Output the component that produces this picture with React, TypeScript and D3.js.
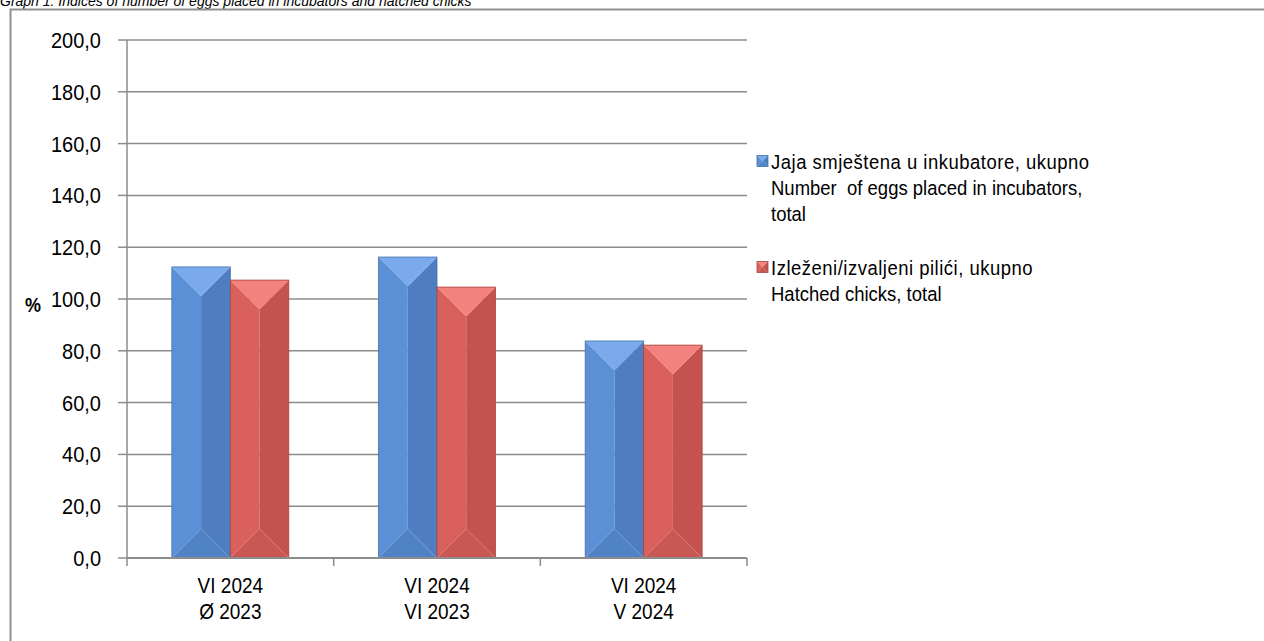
import React from 'react';
import * as d3 from 'd3';

const categories = [
  ['VI 2024', 'Ø 2023'],
  ['VI 2024', 'VI 2023'],
  ['VI 2024', 'V 2024'],
];
const seriesNames = ['eggs', 'chicks'];
const eggsPlaced = [112.4, 116.2, 83.8];
const hatchedChicks = [107.3, 104.6, 82.2];
const yTicks = [0, 20, 40, 60, 80, 100, 120, 140, 160, 180, 200];
const legendLines = [
  ['Jaja smještena u inkubatore, ukupno', 'Number  of eggs placed in incubators,', 'total'],
  ['Izleženi/izvaljeni pilići, ukupno', 'Hatched chicks, total'],
];
const title = 'Graph 1. Indices of number of eggs placed in incubators and hatched chicks';

const WIDTH = 1264;
const HEIGHT = 641;
const PLOT = { left: 127, right: 747, top: 40, bottom: 558 };
const FONT = '"Liberation Sans", Arial, sans-serif';
const STRETCH = 1.12; // source text is drawn a bit taller than wide

// colours per series: top, left, right, bottom, edge
const palette = {
  eggs: { top: '#7aaaeb', left: '#5b8fd6', right: '#4e7ec1', bottom: '#5083c6', edge: '#4470ab' },
  chicks: { top: '#f3817d', left: '#da605c', right: '#c4534f', bottom: '#c95854', edge: '#a8453f' },
};

type Pal = typeof palette.eggs;

const BevelBar: React.FC<{ x0: number; x1: number; yT: number; yB: number; pal: Pal }> = ({ x0, x1, yT, yB, pal }) => {
  const xm = (x0 + x1) / 2;
  const h = Math.min((x1 - x0) / 2, (yB - yT) / 2);
  const pts = (a: number[][]) => a.map(p => p.join(',')).join(' ');
  return (
    <g>
      <polygon points={pts([[x0, yT], [xm, yT + h], [xm, yB - h], [x0, yB]])} fill={pal.left} />
      <polygon points={pts([[x1, yT], [xm, yT + h], [xm, yB - h], [x1, yB]])} fill={pal.right} />
      <polygon points={pts([[x0, yB], [xm, yB - h], [x1, yB]])} fill={pal.bottom} />
      <polygon points={pts([[x0, yT], [x1, yT], [xm, yT + h]])} fill={pal.top} />
      <rect x={x0} y={yT} width={x1 - x0} height={yB - yT} fill="none" stroke={pal.edge} strokeWidth={0.8} />
    </g>
  );
};

const Txt: React.FC<{ x: number; y: number; size: number; anchor?: string; bold?: boolean; spacing?: number; children: React.ReactNode }> = ({ x, y, size, anchor = 'start', bold, spacing = 0, children }) => (
  <text
    transform={`translate(${x},${y}) scale(1,${STRETCH})`}
    textAnchor={anchor}
    fontSize={size}
    fontWeight={bold ? 'bold' : 'normal'}
    letterSpacing={spacing}
    fill="#000"
    style={{ whiteSpace: 'pre' }}
  >
    {children}
  </text>
);

const App: React.FC = () => {
  const y = d3.scaleLinear().domain([0, 200]).range([PLOT.bottom, PLOT.top]);
  const x = d3.scaleBand<number>().domain(d3.range(categories.length)).range([PLOT.left, PLOT.right]);
  const xs = d3.scaleBand<string>().domain(seriesNames).range([0, x.bandwidth()]).paddingOuter(0.767);
  const fmt = (v: number) => d3.format('.1f')(v).replace('.', ',');
  const values: Record<string, number[]> = { eggs: eggsPlaced, chicks: hatchedChicks };
  const grid = '#8c8c8c';

  const legendY = [161, 267];

  return (
    <svg width={WIDTH} height={HEIGHT} style={{ position: 'fixed', left: 0, top: 0, background: '#fff' }} fontFamily={FONT}>
      <rect x={0} y={0} width={WIDTH} height={HEIGHT} fill="#fff" />
      <text x={0} y={6} fontSize={14} fontStyle="italic" fill="#000">{title}</text>
      <rect x={10.5} y={9.5} width={1400} height={800} fill="none" stroke="#8f8f8f" strokeWidth={2} />

      {/* gridlines and y axis */}
      {yTicks.map(t => (
        <g key={t}>
          <line x1={PLOT.left} x2={PLOT.right} y1={y(t)} y2={y(t)} stroke={grid} strokeWidth={1.5} />
          <line x1={PLOT.left - 9} x2={PLOT.left} y1={y(t)} y2={y(t)} stroke={grid} strokeWidth={1.5} />
          <Txt x={101} y={y(t) + 8} size={20} anchor="end">{fmt(t)}</Txt>
        </g>
      ))}
      <line x1={PLOT.left} x2={PLOT.left} y1={PLOT.top} y2={PLOT.bottom} stroke={grid} strokeWidth={1.5} />
      <Txt x={33} y={y(100) + 13} size={18} anchor="middle" bold>%</Txt>

      {/* bars */}
      {categories.map((_, i) =>
        seriesNames.map(s => {
          const x0 = (x(i) ?? 0) + (xs(s) ?? 0);
          return (
            <BevelBar key={`${i}-${s}`} x0={x0} x1={x0 + xs.bandwidth()} yT={y(values[s][i])} yB={y(0)} pal={palette[s as 'eggs']} />
          );
        })
      )}

      {/* x axis */}
      <line x1={PLOT.left} x2={PLOT.right} y1={PLOT.bottom} y2={PLOT.bottom} stroke={grid} strokeWidth={2} />
      {d3.range(categories.length + 1).map(i => {
        const xx = PLOT.left + i * x.step();
        return <line key={i} x1={xx} x2={xx} y1={PLOT.bottom} y2={PLOT.bottom + 8} stroke={grid} strokeWidth={1.5} />;
      })}
      {categories.map((c, i) => (
        <g key={i}>
          {c.map((line, j) => (
            <Txt key={j} x={(x(i) ?? 0) + x.bandwidth() / 2} y={593 + j * 26} size={19} anchor="middle">{line}</Txt>
          ))}
        </g>
      ))}

      {/* legend */}
      {legendLines.map((lines, k) => {
        const pal = palette[seriesNames[k] as 'eggs'];
        const cy = legendY[k];
        return (
          <g key={k}>
            <BevelBar x0={757} x1={768} yT={cy - 5.5} yB={cy + 5.5} pal={pal} />
            {lines.map((l, j) => (
              <Txt key={j} x={771} y={cy + 7.5 + j * 26} size={18.5} spacing={j === 0 ? 0.5 : 0}>{l}</Txt>
            ))}
          </g>
        );
      })}
    </svg>
  );
};

export default App;
